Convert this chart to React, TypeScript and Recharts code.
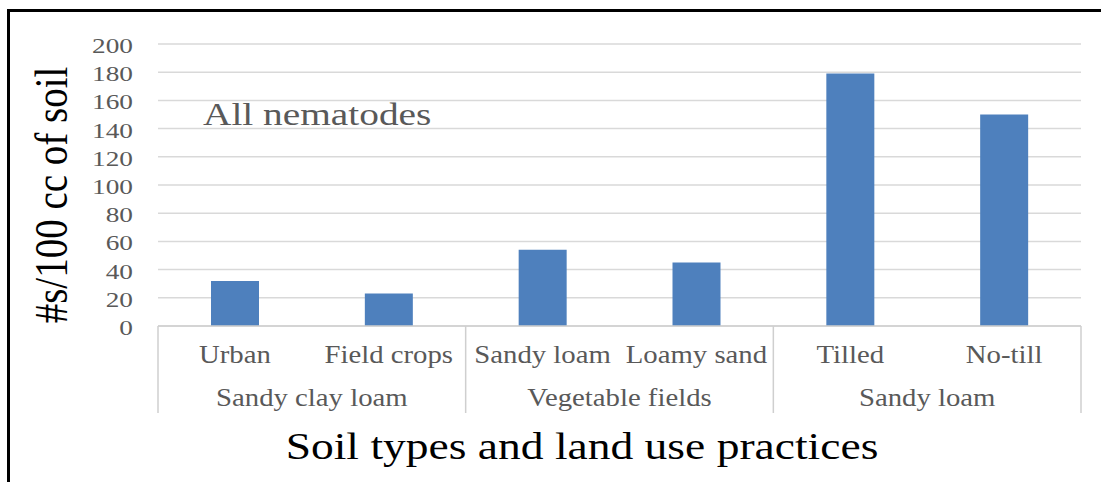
import React from 'react';
import { BarChart, Bar, XAxis, YAxis, CartesianGrid } from 'recharts';

// Nematode counts per soil type / land use
const categories = ['Urban', 'Field crops', 'Sandy loam', 'Loamy sand', 'Tilled', 'No-till'];
const groups = [
  'Sandy clay loam',
  'Sandy clay loam',
  'Vegetable fields',
  'Vegetable fields',
  'Sandy loam',
  'Sandy loam',
];
const counts = [32, 23, 54, 45, 179, 150];
const yTicks = [0, 20, 40, 60, 80, 100, 120, 140, 160, 180, 200];

const data = categories.map((name, i) => ({ name, group: groups[i], count: counts[i] }));

const W = 1101;
const H = 482;
const PLOT_LEFT = 158;
const PLOT_RIGHT = 1081;
const PLOT_TOP = 44;
const PLOT_BOTTOM = 326;
const X_AXIS_H = 100;
const BAND = (PLOT_RIGHT - PLOT_LEFT) / categories.length;

const SERIF = '"Liberation Serif", serif';
const LABEL_GRAY = '#595959';
const GRID_GRAY = '#D9D9D9';
const AXIS_GRAY = '#CFCFCF';
const BAR_BLUE = '#4E80BD';

const serifStyle = { fontFamily: SERIF };

function YTick(props: any) {
  const { x, y, payload } = props;
  return (
    <text
      transform={`translate(${x},${y + 9}) scale(1.3,1)`}
      textAnchor="end"
      style={serifStyle}
      fontSize={21}
      fill={LABEL_GRAY}
    >
      {payload.value}
    </text>
  );
}

function XTick(props: any) {
  const { x, y, payload } = props;
  const i: number = payload.index ?? props.index;
  const isFirstOfGroup = i === 0 || groups[i] !== groups[i - 1];
  let span = 1;
  while (i + span < groups.length && groups[i + span] === groups[i]) span++;
  const left = x - BAND / 2;
  const isLast = i === categories.length - 1;
  return (
    <g>
      <text
        transform={`translate(${x},${y + 37}) scale(1.15,1)`}
        textAnchor="middle"
        style={serifStyle}
        fontSize={25}
        fill={LABEL_GRAY}
      >
        {payload.value}
      </text>
      {isFirstOfGroup && (
        <>
          <line x1={left} x2={left} y1={y} y2={y + 87} stroke={AXIS_GRAY} strokeWidth={1.5} />
          <text
            transform={`translate(${left + (span * BAND) / 2},${y + 80}) scale(1.15,1)`}
            textAnchor="middle"
            style={serifStyle}
            fontSize={25}
            fill={LABEL_GRAY}
          >
            {groups[i]}
          </text>
        </>
      )}
      {isLast && (
        <line
          x1={x + BAND / 2}
          x2={x + BAND / 2}
          y1={y}
          y2={y + 87}
          stroke={AXIS_GRAY}
          strokeWidth={1.5}
        />
      )}
    </g>
  );
}

export default function App() {
  return (
    <div
      style={{
        position: 'absolute',
        left: 0,
        top: 0,
        width: W,
        height: H,
        overflow: 'hidden',
        background: '#fff',
        fontFamily: SERIF,
      }}
    >
      <BarChart
        width={W}
        height={H}
        data={data}
        style={serifStyle}
        margin={{ top: PLOT_TOP, right: W - PLOT_RIGHT, left: 0, bottom: H - PLOT_BOTTOM - X_AXIS_H }}
      >
        <CartesianGrid vertical={false} stroke={GRID_GRAY} strokeWidth={1.5} />
        <YAxis
          width={PLOT_LEFT}
          domain={[0, 200]}
          ticks={yTicks}
          axisLine={false}
          tickLine={false}
          tickSize={0}
          tickMargin={25}
          tick={<YTick />}
          interval={0}
        />
        <XAxis
          dataKey="name"
          height={X_AXIS_H}
          axisLine={{ stroke: AXIS_GRAY, strokeWidth: 1.5 }}
          tickLine={false}
          tickSize={0}
          tickMargin={0}
          tick={<XTick />}
          interval={0}
        />
        <Bar dataKey="count" fill={BAR_BLUE} barSize={48} isAnimationActive={false} />
      </BarChart>

      <svg
        width={W}
        height={H}
        style={{ position: 'absolute', left: 0, top: 0, pointerEvents: 'none', fontFamily: SERIF }}
      >
        <text
          transform="translate(203,125) scale(1.23,1)"
          style={serifStyle}
          fontSize={32}
          fill={LABEL_GRAY}
        >
          All nematodes
        </text>
        <text
          transform="translate(67,195) scale(1.19,1) rotate(-90)"
          textAnchor="middle"
          style={serifStyle}
          fontSize={39}
          fill="#000"
        >
          #s/100 cc of soil
        </text>
        <text
          transform="translate(582,459) scale(1.23,1)"
          textAnchor="middle"
          style={serifStyle}
          fontSize={37}
          fill="#000"
        >
          Soil types and land use practices
        </text>
      </svg>

      <div
        style={{
          position: 'absolute',
          left: 7,
          top: 9,
          width: W,
          height: H,
          borderTop: '3px solid #000',
          borderLeft: '3px solid #000',
          pointerEvents: 'none',
        }}
      />
    </div>
  );
}
